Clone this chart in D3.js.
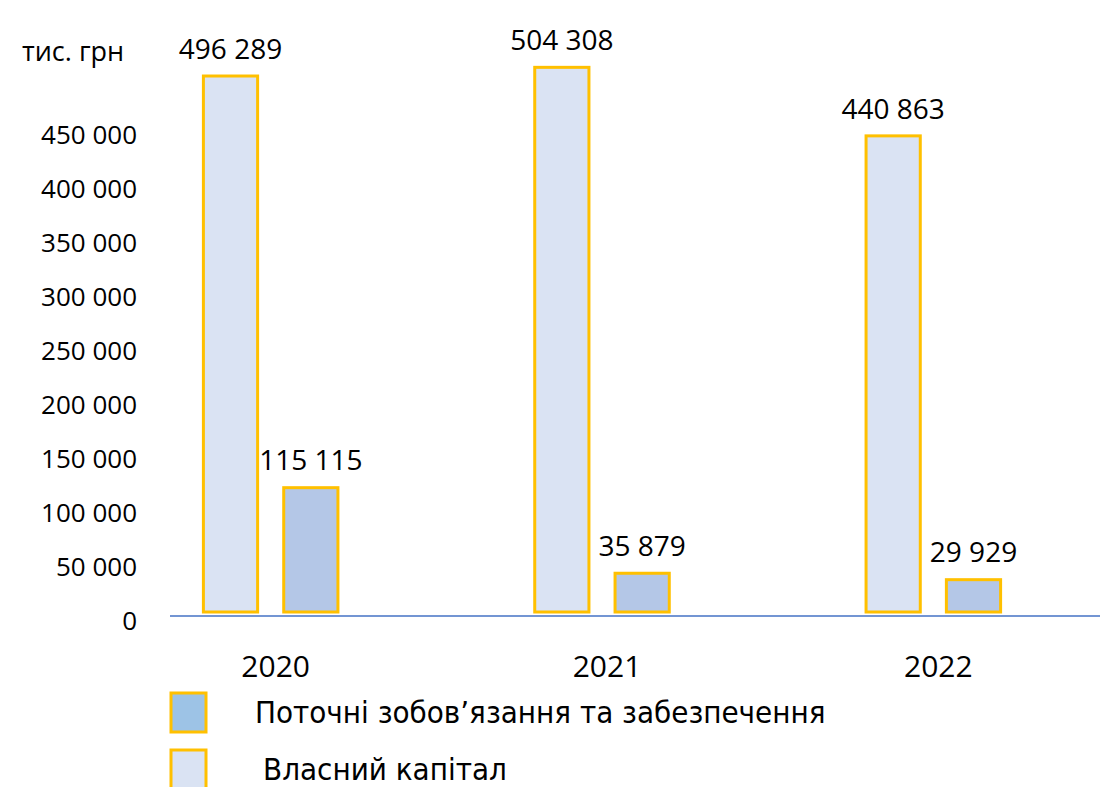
<!DOCTYPE html>
<html>
<head>
<meta charset="utf-8">
<script src="https://cdn.jsdelivr.net/npm/d3@7"></script>
<style>
  body { margin: 0; background: #fff; }
  text { font-family: "Open Sans", sans-serif; fill: #000; }
  .legend text { font-family: "DejaVu Sans Condensed", "DejaVu Sans", sans-serif; font-stretch: condensed; }
</style>
</head>
<body>
<div id="vis"></div>
<script>

var years = ['2020', '2021', '2022'];
var series = ['Власний капітал', 'Поточні зобов’язання та забезпечення'];
var ownCapital = [496289, 504308, 440863];
var liabilities = [115115, 35879, 29929];
var yTicks = [0, 50000, 100000, 150000, 200000, 250000, 300000, 350000, 400000, 450000];
var unitLabel = 'тис. грн';

var barFill = { 'Власний капітал': '#dae3f3', 'Поточні зобов’язання та забезпечення': '#b4c7e7' };
var legendFill = { 'Власний капітал': '#dae3f3', 'Поточні зобов’язання та забезпечення': '#9dc3e6' };
var stroke = '#ffc000';

var width = 1109, height = 787;

var svg = d3.select('#vis').append('svg')
  .attr('width', width)
  .attr('height', height);

var fmt = function (v) { return d3.format(',')(v).replace(/,/g, ' '); };

var y = d3.scaleLinear().domain([0, 500000]).range([612, 72]);

var x0 = d3.scaleBand().domain(years).range([105, 1099]);
var x1 = d3.scaleBand().domain(series)
  .range([0, x0.bandwidth()])
  .paddingInner(0.325)
  .paddingOuter(1.225);

var rows = years.map(function (yr, i) {
  return { year: yr, values: [
    { key: series[0], value: ownCapital[i] },
    { key: series[1], value: liabilities[i] }
  ] };
});

// y tick labels (no axis line, no ticks)
svg.append('g').selectAll('text')
  .data(yTicks)
  .enter().append('text')
  .attr('x', 137)
  .attr('y', function (d) { return y(d) + 9; })
  .attr('dy', '0.35em')
  .attr('text-anchor', 'end')
  .style('font-size', '26px')
  .text(function (d) { return fmt(d); });

svg.append('text')
  .attr('x', 22)
  .attr('y', 52)
  .attr('dy', '0.35em')
  .style('font-size', '27px')
  .text(unitLabel);

// baseline
svg.append('line')
  .attr('x1', 170).attr('x2', 1100)
  .attr('y1', y(0) + 4).attr('y2', y(0) + 4)
  .attr('stroke', '#4472c4')
  .attr('stroke-width', 1.5);

var groups = svg.selectAll('.group')
  .data(rows)
  .enter().append('g')
  .attr('class', 'group')
  .attr('transform', function (d) { return 'translate(' + x0(d.year) + ',0)'; });

groups.selectAll('rect')
  .data(function (d) { return d.values; })
  .enter().append('rect')
  .attr('x', function (d) { return x1(d.key); })
  .attr('width', x1.bandwidth())
  .attr('y', function (d) { return y(d.value); })
  .attr('height', function (d) { return y(0) - y(d.value); })
  .attr('fill', function (d) { return barFill[d.key]; })
  .attr('stroke', stroke)
  .attr('stroke-width', 3);

groups.selectAll('.val')
  .data(function (d) { return d.values; })
  .enter().append('text')
  .attr('class', 'val')
  .attr('x', function (d) { return x1(d.key) + x1.bandwidth() / 2; })
  .attr('y', function (d) { return y(d.value) - 27; })
  .attr('dy', '0.35em')
  .attr('text-anchor', 'middle')
  .style('font-size', '28px')
  .text(function (d) { return fmt(d.value); });

groups.append('text')
  .attr('x', x0.bandwidth() / 2 + 5)
  .attr('y', 666)
  .attr('dy', '0.35em')
  .attr('text-anchor', 'middle')
  .style('font-size', '30px')
  .text(function (d) { return d.year; });

// legend
var legendItems = [series[1], series[0]];
var legend = svg.append('g').attr('class', 'legend');
var li = legend.selectAll('g')
  .data(legendItems)
  .enter().append('g')
  .attr('transform', function (d, i) { return 'translate(171,' + (693 + i * 57) + ')'; });

li.append('rect')
  .attr('width', 35)
  .attr('height', 39)
  .attr('fill', function (d) { return legendFill[d]; })
  .attr('stroke', stroke)
  .attr('stroke-width', 3);

li.append('text')
  .attr('x', function (d, i) { return i === 0 ? 84 : 92; })
  .attr('y', 30)
  .style('font-size', '31px')
  .text(function (d) { return d; });

</script>
</body>
</html>
